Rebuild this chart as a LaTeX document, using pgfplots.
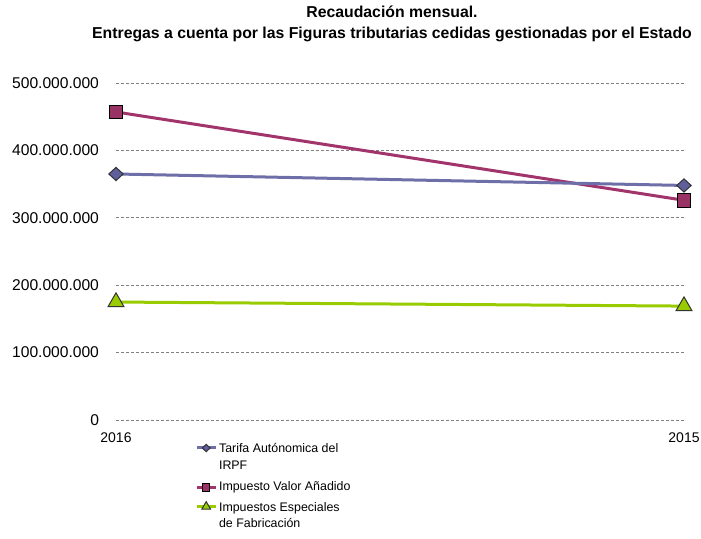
\documentclass[border=0pt]{standalone}
\usepackage{fontspec}
\setmainfont{Liberation Sans}
\usepackage{pgfplots}
\pgfplotsset{compat=1.18}
\definecolor{irpfline}{HTML}{6E6EA8}
\definecolor{irpfmark}{HTML}{5F5F9C}
\definecolor{ivaline}{HTML}{A2346C}
\definecolor{ivamark}{HTML}{993366}
\definecolor{iefline}{HTML}{99CC00}
\definecolor{gridgray}{HTML}{808080}

\begin{document}
\begin{tikzpicture}
\useasboundingbox (-58pt,-59.5pt) rectangle (292.5pt,210pt);
\begin{axis}[
    scale only axis,
    width=284pt, height=168.5pt,
    xmin=0, xmax=1,
    ymin=0, ymax=500000000,
    xtick={0,1}, xticklabels={2016,2015},
    ytick={0,100000000,200000000,300000000,400000000,500000000},
    scaled y ticks=false,
    yticklabel style={xshift=-5pt, font=\fontsize{7.8}{9}\selectfont,
        /pgf/number format/fixed,
        /pgf/number format/1000 sep={.}, /pgf/number format/assume math mode=true},
    xticklabel style={yshift=-3pt, font=\fontsize{7}{9}\selectfont},
    major tick length=0pt,
    axis line style={draw=none},
    ymajorgrids=true,
    grid style={gridgray, dash pattern=on 1.5pt off 1pt, line width=0.4pt},
    clip=false,
    legend style={
        at={(0.139,-0.063)}, anchor=north west,
        draw=none, fill=none, inner sep=0pt,
        font=\fontsize{6.2}{8.3}\selectfont,
        row sep=2.5pt,
        cells={align=left},
        nodes={inner xsep=1pt, inner ysep=1pt},
    },
    legend cell align=left,
    legend image code/.code={
        \draw[scale=0.55, mark repeat=2, mark phase=2]
            plot coordinates {(0pt,0pt)(8.5pt,0pt)(17pt,0pt)};
    },
]
\addplot[ivaline, line width=1.5pt, mark=square*, mark size=3.4pt,
    mark options={fill=ivamark, draw=black, line width=0.5pt}, forget plot]
    coordinates {(0,457000000) (1,326000000)};
\addplot[irpfline, line width=1.5pt, mark=diamond*, mark size=3.3pt,
    mark options={fill=irpfmark, draw=black!80, line width=0.5pt, xscale=1.45},
    legend image post style={yshift=5pt}]
    coordinates {(0,365000000) (1,348000000)};
\addlegendentry{Tarifa Autónomica del\\IRPF}
\addlegendimage{ivaline, line width=1.5pt, mark=square*, mark size=3.4pt,
    mark options={fill=ivamark, draw=black, line width=0.5pt}}
\addlegendentry{Impuesto Valor Añadido}
\addplot[iefline, line width=1.5pt, mark=triangle*, mark size=4.6pt,
    mark options={fill=iefline, draw=black!80, line width=0.5pt},
    legend image post style={yshift=5pt}]
    coordinates {(0,175000000) (1,169000000)};
\addlegendentry{Impuestos Especiales\\de Fabricación}
\end{axis}
\node[font=\bfseries\fontsize{7.9}{9}\selectfont] at (138pt,204pt) {Recaudación mensual.};
\node[font=\bfseries\fontsize{7.9}{9}\selectfont] at (138pt,193pt) {Entregas a cuenta por las Figuras tributarias cedidas gestionadas por el Estado};
\end{tikzpicture}
\end{document}
